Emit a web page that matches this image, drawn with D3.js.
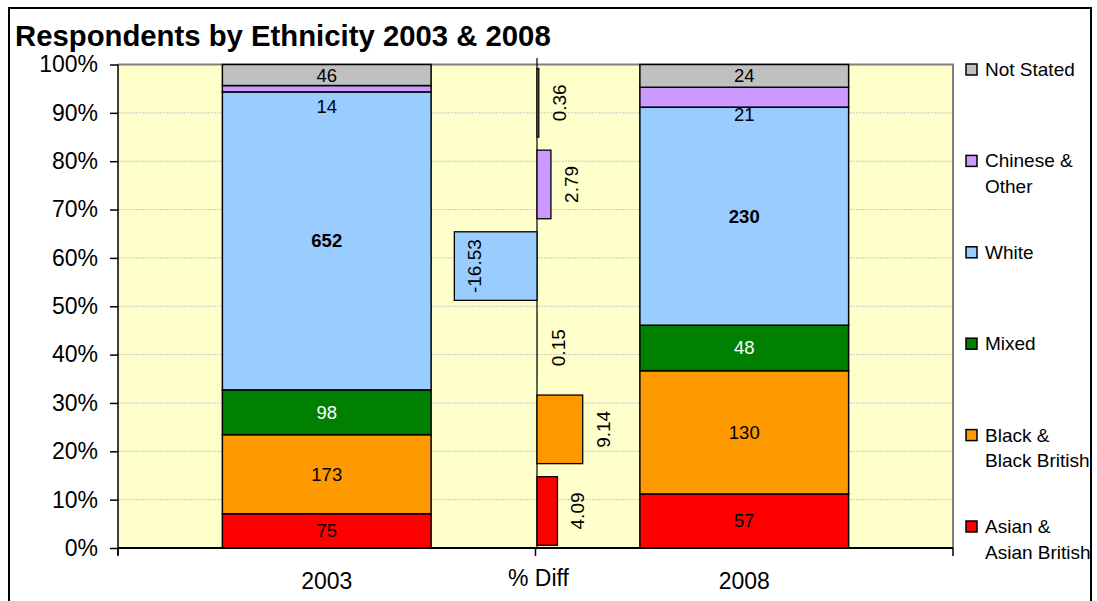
<!DOCTYPE html>
<html>
<head>
<meta charset="utf-8">
<script src="https://cdn.jsdelivr.net/npm/d3@7"></script>
<style>
  html, body { margin: 0; padding: 0; background: #fff; }
  svg { display: block; font-family: "Liberation Sans", Arial, sans-serif; }
</style>
</head>
<body>
<svg id="chart" width="1097" height="601"></svg>
<script>
// Respondent counts per ethnic group, stacked bottom to top
const years = ["2003", "2008"];
const groups = ["Asian & Asian British", "Black & Black British", "Mixed", "White", "Chinese & Other", "Not Stated"];
const counts2003 = [75, 173, 98, 652, 14, 46];
const counts2008 = [57, 130, 48, 230, 21, 24];
// Change in share (percentage points), 2003 -> 2008
const pctDiff = [4.09, 9.14, 0.15, -16.53, 2.79, 0.36];
const diffLabel = "% Diff";
const yTickValues = [0, 0.1, 0.2, 0.3, 0.4, 0.5, 0.6, 0.7, 0.8, 0.9, 1.0];
const legendLines = [["Asian &", "Asian British"], ["Black &", "Black British"], ["Mixed"], ["White"], ["Chinese &", "Other"], ["Not Stated"]];
const colors = ["#FF0000", "#FF9900", "#008000", "#99CCFF", "#CC99FF", "#C0C0C0"];

const svg = d3.select("#chart");

// chart frame
svg.append("rect").attr("x", 9).attr("y", 8).attr("width", 1082).attr("height", 610)
  .attr("fill", "#fff").attr("stroke", "#000").attr("stroke-width", 2);

// title
svg.append("text").attr("x", 15).attr("y", 46)
  .attr("font-size", 29.3).attr("font-weight", "bold").attr("fill", "#000")
  .text("Respondents by Ethnicity 2003 & 2008");

const plot = { left: 118, right: 953, top: 64.5, bottom: 548 };

const x = d3.scaleBand().domain(years).range([plot.left, plot.right])
  .paddingInner(0.5).paddingOuter(0.25);
const y = d3.scaleLinear().domain([0, 1]).range([plot.bottom, plot.top]);

// secondary scales for the percentage-point difference bars
const xd = d3.scaleLinear().domain([-83.8, 83.2]).range([plot.left, plot.right]);
const yd = d3.scaleBand().domain(groups).range([551.8, 62]).paddingInner(0.16).paddingOuter(0.08);

// plot background
svg.append("rect").attr("x", plot.left).attr("y", plot.top)
  .attr("width", plot.right - plot.left).attr("height", plot.bottom - plot.top)
  .attr("fill", "#FFFFCC");

// gridlines
svg.append("g").selectAll("line").data(yTickValues.slice(1, -1)).join("line")
  .attr("x1", plot.left).attr("x2", plot.right)
  .attr("y1", d => y(d)).attr("y2", d => y(d))
  .attr("stroke", "#c8c8c8").attr("stroke-width", 1).attr("stroke-dasharray", "2,1");

// plot border (top, right)
svg.append("path")
  .attr("d", `M${plot.left},${plot.top}H${plot.right}V${plot.bottom}`)
  .attr("fill", "none").attr("stroke", "#808080").attr("stroke-width", 2);

// stacked percentage columns
const tables = { "2003": counts2003, "2008": counts2008 };
years.forEach(yr => {
  const vals = tables[yr];
  const total = d3.sum(vals);
  let cum = 0;
  const segs = vals.map((v, i) => {
    const s = { i, v, y0: cum / total, y1: (cum + v) / total };
    cum += v;
    return s;
  });
  const g = svg.append("g");
  g.selectAll("rect").data(segs).join("rect")
    .attr("x", x(yr)).attr("width", x.bandwidth())
    .attr("y", d => y(d.y1)).attr("height", d => y(d.y0) - y(d.y1))
    .attr("fill", d => colors[d.i]).attr("stroke", "#000").attr("stroke-width", 1.5);
  g.selectAll("text").data(segs).join("text")
    .attr("x", x(yr) + x.bandwidth() / 2)
    .attr("y", d => (y(d.y0) + y(d.y1)) / 2 + (d.i === 4 ? 17.5 : 0))
    .attr("text-anchor", "middle").attr("dominant-baseline", "central")
    .attr("font-size", 18.5)
    .attr("font-weight", d => d.i === 3 ? "bold" : "normal")
    .attr("fill", d => d.i === 2 ? "#fff" : "#000")
    .text(d => d.v);
});

// difference bars
const dg = svg.append("g");
dg.append("line").attr("x1", xd(0)).attr("x2", xd(0)).attr("y1", 58).attr("y2", plot.bottom)
  .attr("stroke", "#000").attr("stroke-width", 1.2);
dg.selectAll("rect").data(pctDiff).join("rect")
  .attr("x", d => xd(Math.min(0, d))).attr("width", d => Math.abs(xd(d) - xd(0)))
  .attr("y", (d, i) => yd(groups[i])).attr("height", yd.bandwidth())
  .attr("fill", (d, i) => colors[i]).attr("stroke", "#000")
  .attr("stroke-width", d => Math.abs(d) < 0.3 ? 0 : 1.3);
dg.selectAll("text").data(pctDiff).join("text")
  .attr("transform", (d, i) => `translate(${xd(d) + 20.5},${yd(groups[i]) + yd.bandwidth() / 2}) rotate(-90)`)
  .attr("text-anchor", "middle").attr("dominant-baseline", "central")
  .attr("font-size", 19).attr("fill", "#000")
  .text(d => d.toFixed(2));

// y axis
const yAxis = svg.append("g").attr("transform", `translate(${plot.left},0)`)
  .call(d3.axisLeft(y).tickValues(yTickValues).tickFormat(d3.format(".0%")).tickSize(8).tickPadding(12));
yAxis.select(".domain").attr("stroke", "#000").attr("stroke-width", 1.5)
  .attr("d", `M0,${plot.top}V${plot.bottom + 7}`);
yAxis.selectAll(".tick line").attr("stroke", "#000").attr("stroke-width", 1.5);
yAxis.selectAll(".tick text").attr("font-size", 23).attr("fill", "#000")
  .attr("font-family", "Liberation Sans, Arial, sans-serif");

// x axis
const xAxis = svg.append("g").attr("transform", `translate(0,${plot.bottom})`)
  .call(d3.axisBottom(x).tickSize(0).tickPadding(25));
xAxis.select(".domain").attr("stroke", "#000").attr("stroke-width", 2)
  .attr("d", `M${plot.left},0H${plot.right}`);
xAxis.selectAll(".tick text").attr("font-size", 23).attr("fill", "#000")
  .attr("font-family", "Liberation Sans, Arial, sans-serif");
const boundaries = [plot.left, (x("2003") + x.bandwidth() + x("2008")) / 2, plot.right];
xAxis.selectAll("line.bound").data(boundaries).join("line").attr("class", "bound")
  .attr("x1", d => d).attr("x2", d => d).attr("y1", 0).attr("y2", 8)
  .attr("stroke", "#000").attr("stroke-width", 1.5);

svg.append("text").attr("x", xd(0) + 1.5).attr("y", 578)
  .attr("text-anchor", "middle").attr("dominant-baseline", "central")
  .attr("font-size", 23).attr("fill", "#000").text(diffLabel);

// legend, top to bottom in reverse stack order
const lg = svg.append("g");
const order = d3.range(groups.length).reverse();
order.forEach((gi, k) => {
  const cy = 69.5 + k * 91.4;
  lg.append("rect").attr("x", 966).attr("y", cy - 5.5).attr("width", 11).attr("height", 11)
    .attr("fill", colors[gi]).attr("stroke", "#000").attr("stroke-width", 1.5);
  legendLines[gi].forEach((line, j) => {
    lg.append("text").attr("x", 985).attr("y", cy + j * 25.7)
      .attr("dominant-baseline", "central").attr("font-size", 19).attr("fill", "#000")
      .text(line);
  });
});
</script>
</body>
</html>
